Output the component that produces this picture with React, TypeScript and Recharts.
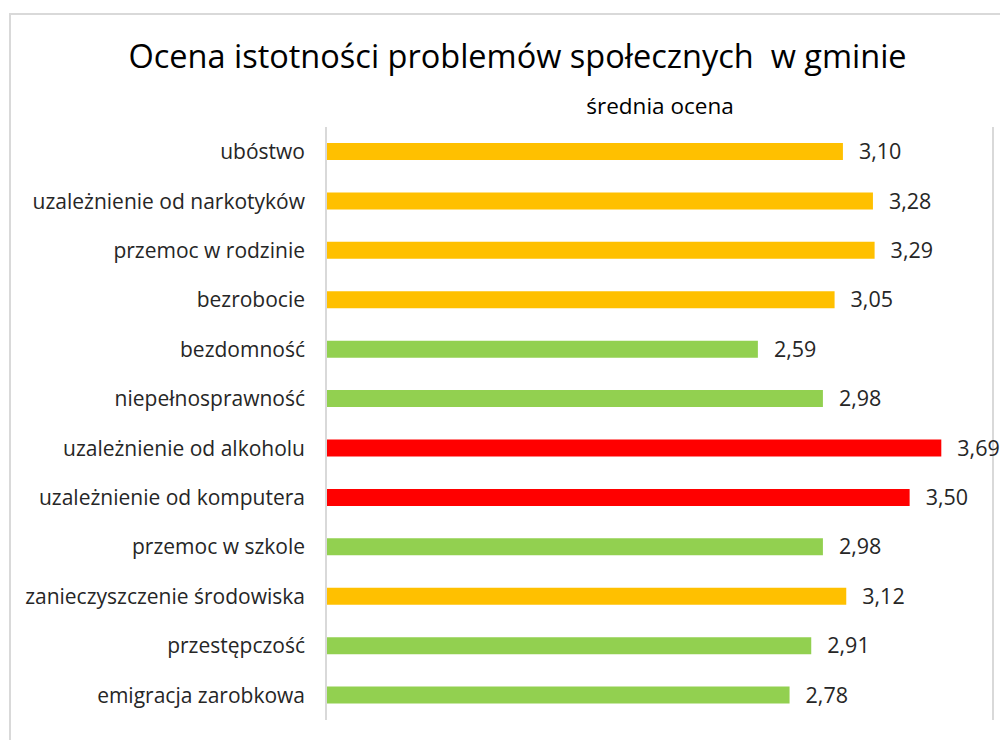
import { BarChart, Bar, XAxis, YAxis, CartesianGrid, Cell, LabelList } from 'recharts';

const categories = [
    'ubóstwo',
    'uzależnienie od narkotyków',
    'przemoc w rodzinie',
    'bezrobocie',
    'bezdomność',
    'niepełnosprawność',
    'uzależnienie od alkoholu',
    'uzależnienie od komputera',
    'przemoc w szkole',
    'zanieczyszczenie środowiska',
    'przestępczość',
    'emigracja zarobkowa',
];

const scores = [3.10, 3.28, 3.29, 3.05, 2.59, 2.98, 3.69, 3.50, 2.98, 3.12, 2.91, 2.78];

const levels = ['mid', 'mid', 'mid', 'mid', 'low', 'low', 'high', 'high', 'low', 'mid', 'low', 'low'];

const xTicks = [0, 1, 2, 3, 4];

const LEVEL_COLORS: Record<string, string> = {
    high: '#FF0000',
    mid: '#FFC000',
    low: '#92D050',
};

const FONT = '"Open Sans", sans-serif';

const data = categories.map((name, i) => ({ name, value: scores[i], level: levels[i] }));

export default function App() {
    return (
        <div style={{ position: 'relative', width: 1000, height: 732, overflow: 'hidden', fontFamily: FONT }}>
            <div
                style={{
                    position: 'absolute', left: 1, top: 5, width: 1100, height: 1000,
                    border: '2px solid #d9d9d9', boxSizing: 'border-box',
                }}
            />
            <div
                style={{
                    position: 'absolute', left: 0, width: 1019, top: 26, textAlign: 'center',
                    fontSize: 32.5, lineHeight: 1.362, color: '#000', whiteSpace: 'pre',
                }}
            >
                Ocena istotności problemów społecznych  w gminie
            </div>
            <div
                style={{
                    position: 'absolute', left: 552, width: 200, top: 83, textAlign: 'center',
                    fontSize: 22.5, lineHeight: 1.362, color: '#000',
                }}
            >
                średnia ocena
            </div>
            <div style={{ position: 'absolute', left: 0, top: 0 }}>
                <BarChart
                    width={1000}
                    height={732}
                    data={data}
                    layout="vertical"
                    margin={{ top: 119, right: 15, bottom: 20, left: 0 }}
                    barCategoryGap={0}
                >
                    <CartesianGrid horizontal={false} stroke="#d9d9d9" strokeWidth={2} />
                    <XAxis
                        type="number"
                        domain={[0, 4]}
                        ticks={xTicks}
                        height={0}
                        tick={false}
                        axisLine={false}
                        tickLine={false}
                    />
                    <YAxis
                        type="category"
                        dataKey="name"
                        width={318}
                        tickLine={false}
                        tickSize={0}
                        tickMargin={21}
                        axisLine={{ stroke: '#d9d9d9', strokeWidth: 2 }}
                        tick={{ fill: '#262626', fontSize: 21, fontFamily: FONT }}
                        interval={0}
                    />
                    <Bar dataKey="value" barSize={17} isAnimationActive={false}>
                        {data.map((d) => (
                            <Cell key={d.name} fill={LEVEL_COLORS[d.level]} />
                        ))}
                        <LabelList
                            dataKey="value"
                            position="right"
                            offset={16}
                            fill="#262626"
                            fontSize={21.5}
                            fontFamily={FONT}
                            formatter={(v: any) => Number(v).toFixed(2).replace('.', ',')}
                        />
                    </Bar>
                </BarChart>
            </div>
        </div>
    );
}
